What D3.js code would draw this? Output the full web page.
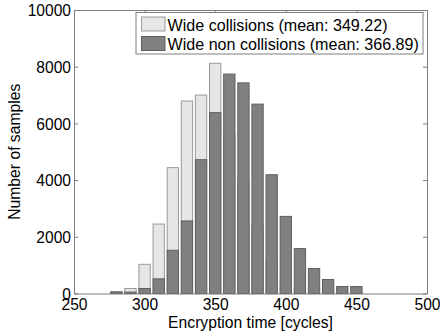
<!DOCTYPE html>
<html><head><meta charset="utf-8">
<script src="https://cdn.jsdelivr.net/npm/d3@7"></script>
<style>
html,body{margin:0;padding:0;background:#fff;}
svg{display:block;font-family:"Liberation Sans",Arial,Helvetica,sans-serif;}
</style></head>
<body>
<svg id="chart" width="440" height="334"></svg>
<script>
const bins = [280,290,300,310,320,330,340,350,360,370,380,390,400,410,420,430,440,450];
const collisions = [70,176,1030,2450,4440,6790,7000,8120,5600,3900,2400,1200,500,200,80,30,10,5];
const nonCollisions = [45,50,176,517,1525,2560,4720,6380,7740,7430,6680,4190,2720,1585,880,493,246,246];
const xTicks = [250,300,350,400,450,500];
const yTicks = [0,2000,4000,6000,8000,10000];
const legendLabels = ["Wide collisions (mean: 349.22)","Wide non collisions (mean: 366.89)"];

const svg = d3.select("#chart");
const L=74, R=427, T=10, B=293.5;
const x = d3.scaleLinear().domain([250,500]).range([L,R]);
const y = d3.scaleLinear().domain([0,10000]).range([B,T]);
const axisColor = "#7f7f7f";
const fs = 15.6;
const halfBin = 4;

// bars
svg.append("g").selectAll("rect").data(bins).join("rect")
  .attr("x",(d)=>x(d-halfBin))
  .attr("width",(d)=>x(d+halfBin)-x(d-halfBin))
  .attr("y",(d,i)=>y(collisions[i])).attr("height",(d,i)=>B-y(collisions[i]))
  .attr("fill","#e6e6e6").attr("stroke","#9a9a9a").attr("stroke-width",1);
svg.append("g").selectAll("rect").data(bins).join("rect")
  .attr("x",(d)=>x(d-halfBin))
  .attr("width",(d)=>x(d+halfBin)-x(d-halfBin))
  .attr("y",(d,i)=>y(nonCollisions[i])).attr("height",(d,i)=>B-y(nonCollisions[i]))
  .attr("fill","#808080").attr("stroke","#5f5f5f").attr("stroke-width",1);

// axes
const tickLen = 4;
const gx = svg.append("g").attr("transform",`translate(0,${B})`)
  .call(d3.axisBottom(x).tickValues(xTicks).tickSize(-tickLen).tickSizeOuter(0).tickFormat(d3.format("d")));
const gxTop = svg.append("g").attr("transform",`translate(0,${T})`)
  .call(d3.axisTop(x).tickValues(xTicks).tickSize(-tickLen).tickSizeOuter(0).tickFormat(""));
const gy = svg.append("g").attr("transform",`translate(${L},0)`)
  .call(d3.axisLeft(y).tickValues(yTicks).tickSize(-tickLen).tickSizeOuter(0).tickPadding(3).tickFormat(d3.format("d")));
const gyR = svg.append("g").attr("transform",`translate(${R},0)`)
  .call(d3.axisRight(y).tickValues(yTicks).tickSize(-tickLen).tickSizeOuter(0).tickFormat(""));
[gx,gxTop,gy,gyR].forEach(g=>{
  g.selectAll("path.domain").attr("stroke",axisColor).attr("stroke-width",1);
  g.selectAll(".tick line").attr("stroke",axisColor);
  g.selectAll("text").attr("fill","#000").style("font-size",fs+"px").style("font-family","'Liberation Sans',Arial,sans-serif");
});
gx.selectAll("text").attr("dy","0").attr("y",16.8);
gy.selectAll("text").attr("dy","0.36em");

// x label
svg.append("text").attr("x",(L+R)/2).attr("y",328).attr("text-anchor","middle")
  .style("font-size","15.7px").text("Encryption time [cycles]");
// y label
svg.append("text").attr("transform",`translate(20,${(T+B)/2}) rotate(-90)`).attr("text-anchor","middle")
  .style("font-size","15.7px").text("Number of samples");

// legend
const lg = svg.append("g");
lg.append("rect").attr("x",136).attr("y",12.5).attr("width",287).attr("height",41.5)
  .attr("fill","#fff").attr("stroke",axisColor);
const lcolors = [["#e6e6e6","#9a9a9a"],["#808080","#5f5f5f"]];
legendLabels.forEach((t,i)=>{
  const top = 17 + i*19.5;
  lg.append("rect").attr("x",141.5).attr("y",top).attr("width",23.5).attr("height",14)
    .attr("fill",lcolors[i][0]).attr("stroke",lcolors[i][1]);
  lg.append("text").attr("x",167.5).attr("y",top+13.5).style("font-size","16.1px").text(t);
});
</script>
</body></html>
